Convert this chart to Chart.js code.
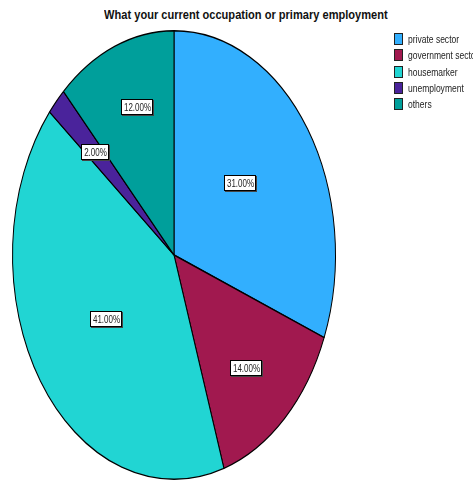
<!DOCTYPE html>
<html>
<head>
<meta charset="utf-8">
<script src="https://cdn.jsdelivr.net/npm/chart.js@4/dist/chart.umd.min.js"></script>
<style>
  html, body { margin: 0; padding: 0; background: #fff; overflow: hidden; }
  #wrap { position: relative; width: 473px; height: 481px; overflow: hidden; }
  #occChart { position: absolute; left: 0; top: 0; }
  #title {
    position: absolute; left: 18px; right: 0; top: 7px;
    text-align: center; white-space: nowrap;
    font: bold 13.5px "Liberation Sans", Arial, sans-serif;
    color: #111;
  }
  #title span { display: inline-block; transform: scaleX(0.82); transform-origin: center; }
  #legend {
    position: absolute; left: 394px; top: 31px; margin: 0; padding: 0;
    list-style: none; white-space: nowrap;
    font: 10.5px "Liberation Sans", Arial, sans-serif;
    color: #222;
  }
  #legend li { height: 16.3px; display: flex; align-items: center; }
  #legend span.box {
    display: inline-block; flex: none; width: 7px; height: 10px; margin-right: 5px;
    border: 1px solid #222;
  }
  #legend span.txt { display: inline-block; transform: scaleX(0.81); transform-origin: left center; }
</style>
</head>
<body>
<div id="wrap">
  <div id="title"><span>What your current occupation or primary employment</span></div>
  <canvas id="occChart" width="473" height="481"></canvas>
  <ul id="legend"></ul>
</div>
<script>
var categories = ["private sector", "government sector", "housemarker", "unemployment", "others"];
var percentages = [31, 14, 41, 2, 12];
var sliceColors = ["#32affe", "#a1194f", "#21d5d3", "#4a239b", "#009f9b"];

// stretch the pie vertically so it fills the chart area as an ellipse
var ellipsePie = {
  id: "ellipsePie",
  beforeDatasetsDraw: function (chart) {
    var ctx = chart.ctx;
    var area = chart.chartArea;
    var arc = chart.getDatasetMeta(0).data[0];
    var k = area.height / area.width;
    ctx.save();
    ctx.translate(arc.x, arc.y);
    ctx.scale(1, k);
    ctx.translate(-arc.x, -arc.y);
  },
  afterDatasetsDraw: function (chart) {
    chart.ctx.restore();
  }
};

// boxed percentage labels inside each slice, narrowed text
var sliceLabels = {
  id: "sliceLabels",
  afterDraw: function (chart, args, opts) {
    var ctx = chart.ctx;
    var area = chart.chartArea;
    var k = area.height / area.width;
    var values = chart.data.datasets[0].data;
    ctx.save();
    ctx.font = opts.font;
    ctx.textAlign = "center";
    ctx.textBaseline = "middle";
    chart.getDatasetMeta(0).data.forEach(function (arc, i) {
      var mid = (arc.startAngle + arc.endAngle) / 2 + opts.turn[i];
      var r = arc.outerRadius * opts.radius[i];
      var x = Math.round(arc.x + Math.cos(mid) * r);
      var y = Math.round(arc.y + Math.sin(mid) * r * k);
      var text = values[i].toFixed(2) + "%";
      var w = Math.round(ctx.measureText(text).width * opts.squeeze) + 4;
      var h = 15;
      var left = x - Math.round(w / 2);
      var top = y - Math.round(h / 2);
      ctx.fillStyle = "#444";
      ctx.fillRect(left + 1, top + 1, w + 1, h + 1);
      ctx.fillStyle = "#fff";
      ctx.fillRect(left, top, w, h);
      ctx.strokeStyle = "#000";
      ctx.lineWidth = 1;
      ctx.strokeRect(left + 0.5, top + 0.5, w, h);
      ctx.save();
      ctx.translate(left + w / 2 + 1, y + 1);
      ctx.scale(opts.squeeze, 1);
      ctx.fillStyle = "#222";
      ctx.fillText(text, 0, 0);
      ctx.restore();
    });
    ctx.restore();
  }
};

// html legend built from the chart's own legend items
var htmlLegend = {
  id: "htmlLegend",
  afterUpdate: function (chart) {
    var ul = document.getElementById("legend");
    ul.innerHTML = "";
    var items = chart.options.plugins.legend.labels.generateLabels(chart);
    items.forEach(function (item) {
      var li = document.createElement("li");
      var box = document.createElement("span");
      box.className = "box";
      box.style.background = item.fillStyle;
      var txt = document.createElement("span");
      txt.className = "txt";
      txt.textContent = item.text;
      li.appendChild(box);
      li.appendChild(txt);
      ul.appendChild(li);
    });
  }
};

new Chart(document.getElementById("occChart").getContext("2d"), {
  type: "pie",
  data: {
    labels: categories,
    datasets: [
      {
        data: percentages,
        backgroundColor: sliceColors,
        borderColor: "#000",
        borderWidth: 1
      }
    ]
  },
  options: {
    responsive: false,
    animation: false,
    devicePixelRatio: 1,
    layout: {
      padding: { left: 12, right: 137, top: 30, bottom: 1 }
    },
    plugins: {
      legend: { display: false },
      title: { display: false },
      tooltip: { enabled: false },
      sliceLabels: {
        font: "10px 'Liberation Sans', Arial, sans-serif",
        squeeze: 0.8,
        radius: [0.52, 0.67, 0.51, 0.67, 0.70],
        turn: [-0.07, 0.03, 0, 0, 0.04]
      }
    }
  },
  plugins: [ellipsePie, sliceLabels, htmlLegend]
});
</script>
</body>
</html>
